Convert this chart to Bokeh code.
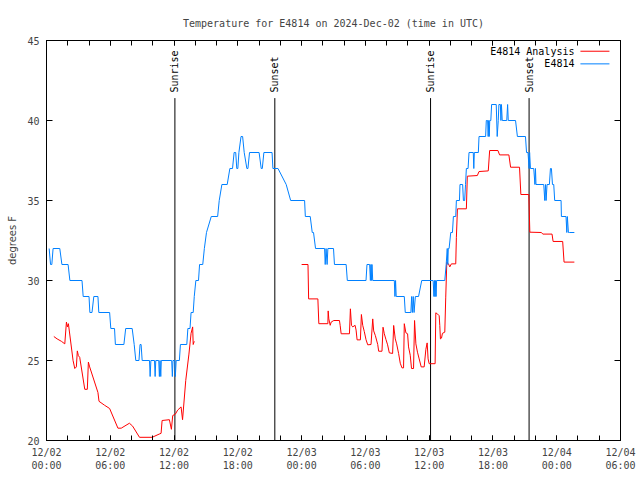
import math
from bokeh.plotting import figure
from bokeh.models import FixedTicker, LinearAxis
from bokeh.embed import file_html
from bokeh.resources import INLINE
from bokeh.core.properties import value

TITLE = "Temperature for E4814 on 2024-Dec-02 (time in UTC)"
Y_LABEL = "degrees F"

# hours since 2024-12-02 00:00 UTC
obs_hours = [0.25, 0.38, 0.5, 0.62, 1.25, 1.45, 2.03, 2.2, 3.34, 3.45, 4.0, 4.08, 4.28, 4.45, 4.84, 4.92,
             5.94, 6.05, 6.4, 6.48, 7.28, 7.45, 8.06, 8.25, 8.4, 8.7, 8.8, 8.9, 9.0, 9.69, 9.75, 9.82,
             10.16, 10.22, 10.28, 10.56, 10.62, 10.68, 10.75, 10.8, 11.78, 11.84, 11.9, 12.06, 12.12, 12.2,
             12.5, 12.6, 13.2, 13.3, 13.5, 13.6, 13.8, 13.9, 14.05, 14.3, 14.4, 14.7, 14.85, 15.05, 15.5,
             16.1, 16.25, 16.5, 17.0, 17.25, 17.5, 17.65, 17.8, 17.9, 18.0, 18.1, 18.3, 18.45, 18.6, 18.85,
             18.95, 19.1, 20.0, 20.2, 20.3, 20.45, 21.22, 21.3, 21.78, 22.55, 22.97, 24.28, 24.35, 24.81,
             25.0, 25.12, 25.31, 26.16, 26.22, 26.3, 26.4, 26.47, 27.0, 27.09, 28.19, 28.3, 30.06, 30.15,
             30.4, 30.47, 30.52, 30.58, 30.62, 30.69, 32.72, 32.78, 32.84, 32.9, 33.66, 33.75, 34.28, 34.35,
             34.42, 34.5, 34.58, 34.7, 35.0, 35.3, 36.375, 36.45, 36.5, 36.55, 36.6, 36.65, 36.7, 37.47,
             37.6, 37.7, 37.75, 37.8, 37.875, 38.03, 38.19, 38.28, 38.5, 38.56, 38.85, 38.9, 39.15, 39.22,
             39.34, 39.42, 39.5, 39.66, 39.75, 40.15, 40.2, 40.25, 40.625, 40.69, 41.31, 41.375, 41.5,
             41.55, 41.6, 41.65, 41.7, 41.8, 41.875, 42.31, 42.4, 42.5, 42.56, 42.7, 42.75, 42.8, 42.875,
             43.3, 43.38, 43.44, 44.125, 44.3, 45.06, 45.16, 45.3, 45.4, 45.45, 45.53, 45.84, 45.95, 46.0,
             46.05, 46.78, 46.875, 46.95, 47.0, 47.09, 47.31, 47.41, 47.5, 47.6, 47.72, 47.81, 48.41, 48.44,
             48.875, 48.95, 49.0, 49.1, 49.19, 49.66]
obs_temp = [32, 31, 31, 32, 32, 31, 31, 30, 30, 29, 29, 28, 28, 29, 29, 28,
            28, 27, 27, 26, 26, 27, 27, 26, 25, 25, 26, 26, 25, 25, 24, 25,
            25, 24, 25, 25, 24, 25, 24, 25, 25, 24, 25, 25, 24, 25,
            25, 26, 26, 27, 27, 28, 28, 29, 30, 30, 31, 31, 32, 33, 34,
            34, 35, 36, 36, 37, 37, 38, 38, 37, 37, 38, 39, 39, 38, 37,
            37, 38, 38, 37, 37, 38, 38, 37, 37, 36, 35, 35, 34, 34,
            33, 33, 32, 32, 31, 32, 31, 32, 32, 31, 31, 30, 30, 31,
            31, 30, 31, 30, 31, 30, 30, 29, 30, 29, 29, 28, 28, 29,
            28, 29, 28, 29, 29, 30, 30, 29, 30, 29, 30, 29, 30, 30,
            31, 32, 31, 32, 32, 33, 33, 34, 34, 35, 35, 36, 36, 35,
            35, 36, 37, 37, 38, 38, 37, 38, 38, 39, 39, 40, 40,
            39, 40, 39, 40, 40, 41, 41, 39, 40, 41, 41, 40, 41, 40,
            40, 41, 40, 40, 39, 39, 38, 38, 37, 38, 37, 37, 36, 37,
            36, 36, 35, 36, 35, 36, 36, 37, 37, 36, 36, 35, 35, 34,
            34, 33, 34, 33, 33, 33]

NAN = float("nan")
ana_hours = [0.69, 1.0, 1.4, 1.72, 1.875, 1.97, 2.06, 2.5, 2.66, 2.81, 2.9, 3.0, 3.125, 3.6, 3.84, 3.94,
             4.06, 4.84, 4.94, 5.47, 5.94, 6.72, 7.03, 7.8, 8.1, 8.75, 9.94, 10.6, 10.78, 10.875, 11.56,
             11.75, 11.875, 12.125, 12.34, 12.66, 12.8, 13.1, 13.4, 13.6, 13.75, 13.8, 13.9,
             18.0,
             24.0, 24.6, 24.66, 25.53, 25.62, 26.47, 26.5, 26.56, 26.69, 26.78, 27.03, 27.56, 27.625,
             27.72, 28.5, 28.59, 28.69, 28.81, 29.03, 29.125, 29.22, 29.53, 29.625, 29.75, 29.9, 30.06,
             30.22, 30.53, 30.69, 30.78, 30.94, 31.16, 31.25, 31.56, 31.66, 31.78, 31.94, 32.09, 32.25,
             32.56, 32.66, 32.81, 32.94, 33.125, 33.28, 33.44, 33.59, 33.66, 33.81, 33.97, 34.06, 34.22,
             34.34, 34.53, 34.625, 34.75, 34.9, 35.06, 35.25, 35.53, 35.69, 35.81, 35.9, 36.0, 36.56,
             36.625, 36.8, 36.94, 37.0, 37.06, 37.16, 37.25, 37.47, 37.56, 37.66, 37.81, 37.94, 38.09,
             38.5, 38.56, 38.66, 39.5, 39.59, 40.53, 40.69, 41.56, 41.69, 42.47, 42.625, 43.5, 43.66,
             44.5, 44.625, 45.375, 45.47, 46.56, 46.69, 47.56, 47.66, 48.56, 48.69, 49.66]
ana_temp = [26.5, 26.35, 26.2, 26.04, 27.4, 27.1, 27.3, 25.0, 24.5, 24.6, 25.6, 25.3, 25.2, 23.2, 23.2, 24.9,
            24.6, 23.0, 22.45, 22.2, 22.0, 20.77, 20.77, 21.08, 20.9, 20.2, 20.2, 20.4, 20.45, 21.25, 21.3,
            20.7, 21.56, 21.65, 21.9, 22.1, 21.3, 23.75, 25.4, 26.7, 27.1, 26.0, 26.2,
            NAN,
            31.0, 31.0, 28.85, 28.85, 27.3, 27.3, 28.1, 27.6, 27.2, 27.4, 27.5, 27.5, 27.2,
            26.67, 26.67, 28.23, 27.2, 27.1, 27.2, 26.9, 26.29, 26.29, 27.875, 27.2, 26.8, 26.3,
            25.98, 26.0, 27.6, 26.85, 26.55, 26.0, 25.58, 25.58, 27.08, 26.67, 26.3, 25.98, 25.48,
            25.44, 27.19, 26.35, 26.04, 25.44, 24.83, 24.54, 24.54, 27.3, 26.73, 26.67, 25.85, 25.33,
            24.5, 24.5, 27.5, 26.04, 25.52, 25.1, 24.6, 24.6, 25.7, 26.1, 25.1, 24.8, 24.8,
            27.98, 27.9, 27.8, 27.19, 26.35, 26.4, 26.7, 26.77, 28.96, 31.15, 31.05, 30.85, 31.04,
            31.04, 32.7, 34.48, 34.48, 36.52, 36.56, 36.81, 36.85, 38.125, 38.125, 37.85, 37.85, 37.08,
            37.08, 35.375, 35.375, 33.02, 33.0, 32.9, 32.9, 32.44, 32.44, 31.15, 31.15]

sun_events = ["Sunrise", "Sunset", "Sunrise", "Sunset"]
sun_hours = [12.08, 21.48, 36.13, 45.4]

x_tick_hours = [0, 6, 12, 18, 24, 30, 36, 42, 48, 54]
x_tick_labels = ["12/02\n00:00", "12/02\n06:00", "12/02\n12:00", "12/02\n18:00",
                 "12/03\n00:00", "12/03\n06:00", "12/03\n12:00", "12/03\n18:00",
                 "12/04\n00:00", "12/04\n06:00"]
x_minor_hours = list(range(0, 55, 2))
y_ticks = [20, 25, 30, 35, 40, 45]

legend_names = ["E4814 Analysis", "E4814"]
RED = "#ff0000"
BLUE = "#0080ff"
FONT = "DejaVu Sans Mono"
FS = "10px"

p = figure(frame_width=574, frame_height=400, x_range=(0, 54), y_range=(20, 45),
           output_backend="svg", toolbar_location=None,
           min_border_left=46, min_border_right=20, min_border_top=40, min_border_bottom=40,
           title=TITLE)
p.title.align = "center"
p.title.text_font = FONT
p.title.text_font_size = FS
p.title.text_font_style = "normal"
p.title.standoff = 24
p.grid.visible = False
p.outline_line_color = "black"
p.outline_line_width = 1
p.background_fill_color = "white"
p.border_fill_color = "white"

def style_x(ax, labels):
    ax.ticker = FixedTicker(ticks=x_tick_hours, minor_ticks=x_minor_hours)
    ax.major_tick_in = 5
    ax.major_tick_out = 0
    ax.minor_tick_in = 5
    ax.minor_tick_out = 0
    ax.axis_line_color = "black"
    ax.major_label_text_font = FONT
    if labels:
        ax.major_label_text_font_size = FS
        ax.major_label_overrides = {t: l for t, l in zip(x_tick_hours, x_tick_labels)}
        ax.major_label_standoff = 6
    else:
        ax.major_label_text_font_size = "1px"
        ax.major_label_text_color = None
        ax.major_label_standoff = 0

def style_y(ax, labels):
    ax.ticker = FixedTicker(ticks=y_ticks)
    ax.major_tick_in = 6
    ax.major_tick_out = 0
    ax.minor_tick_in = 0
    ax.minor_tick_out = 0
    ax.axis_line_color = "black"
    ax.major_label_text_font = FONT
    if labels:
        ax.major_label_text_font_size = FS
        ax.major_label_standoff = 7
    else:
        ax.major_label_text_font_size = "1px"
        ax.major_label_text_color = None
        ax.major_label_standoff = 0

style_x(p.xaxis[0], True)
style_y(p.yaxis[0], True)
p.yaxis[0].axis_label = Y_LABEL
p.yaxis[0].axis_label_text_font = "DejaVu Sans"
p.yaxis[0].axis_label_text_font_size = FS
p.yaxis[0].axis_label_text_font_style = "normal"
p.yaxis[0].axis_label_standoff = 6

top = LinearAxis()
style_x(top, False)
p.add_layout(top, "above")
right = LinearAxis()
style_y(right, False)
p.add_layout(right, "right")

# sunrise / sunset markers
p.segment(x0=sun_hours, y0=[20] * len(sun_hours), x1=sun_hours, y1=[41.4] * len(sun_hours),
          line_color="black", line_width=1)
p.text(x=sun_hours, y=[41.75] * len(sun_hours), text=sun_events, angle=math.pi / 2,
       text_align="left", text_baseline="middle", text_font=value(FONT), text_font_size=FS,
       text_color="black")

p.line(ana_hours, ana_temp, line_color=RED, line_width=1)
p.line(obs_hours, obs_temp, line_color=BLUE, line_width=1)

# legend (key on the right of the text, like the original)
p.text(x=[49.67, 49.67], y=[44.33, 43.54], text=legend_names, text_align="right",
       text_baseline="middle", text_font=value(FONT), text_font_size=FS, text_color="black")
p.segment(x0=[50.23, 50.23], y0=[44.33, 43.54], x1=[52.96, 52.96], y1=[44.33, 43.54],
          line_color=[RED, BLUE], line_width=1)

open("out.html", "w").write(file_html(p, INLINE))
